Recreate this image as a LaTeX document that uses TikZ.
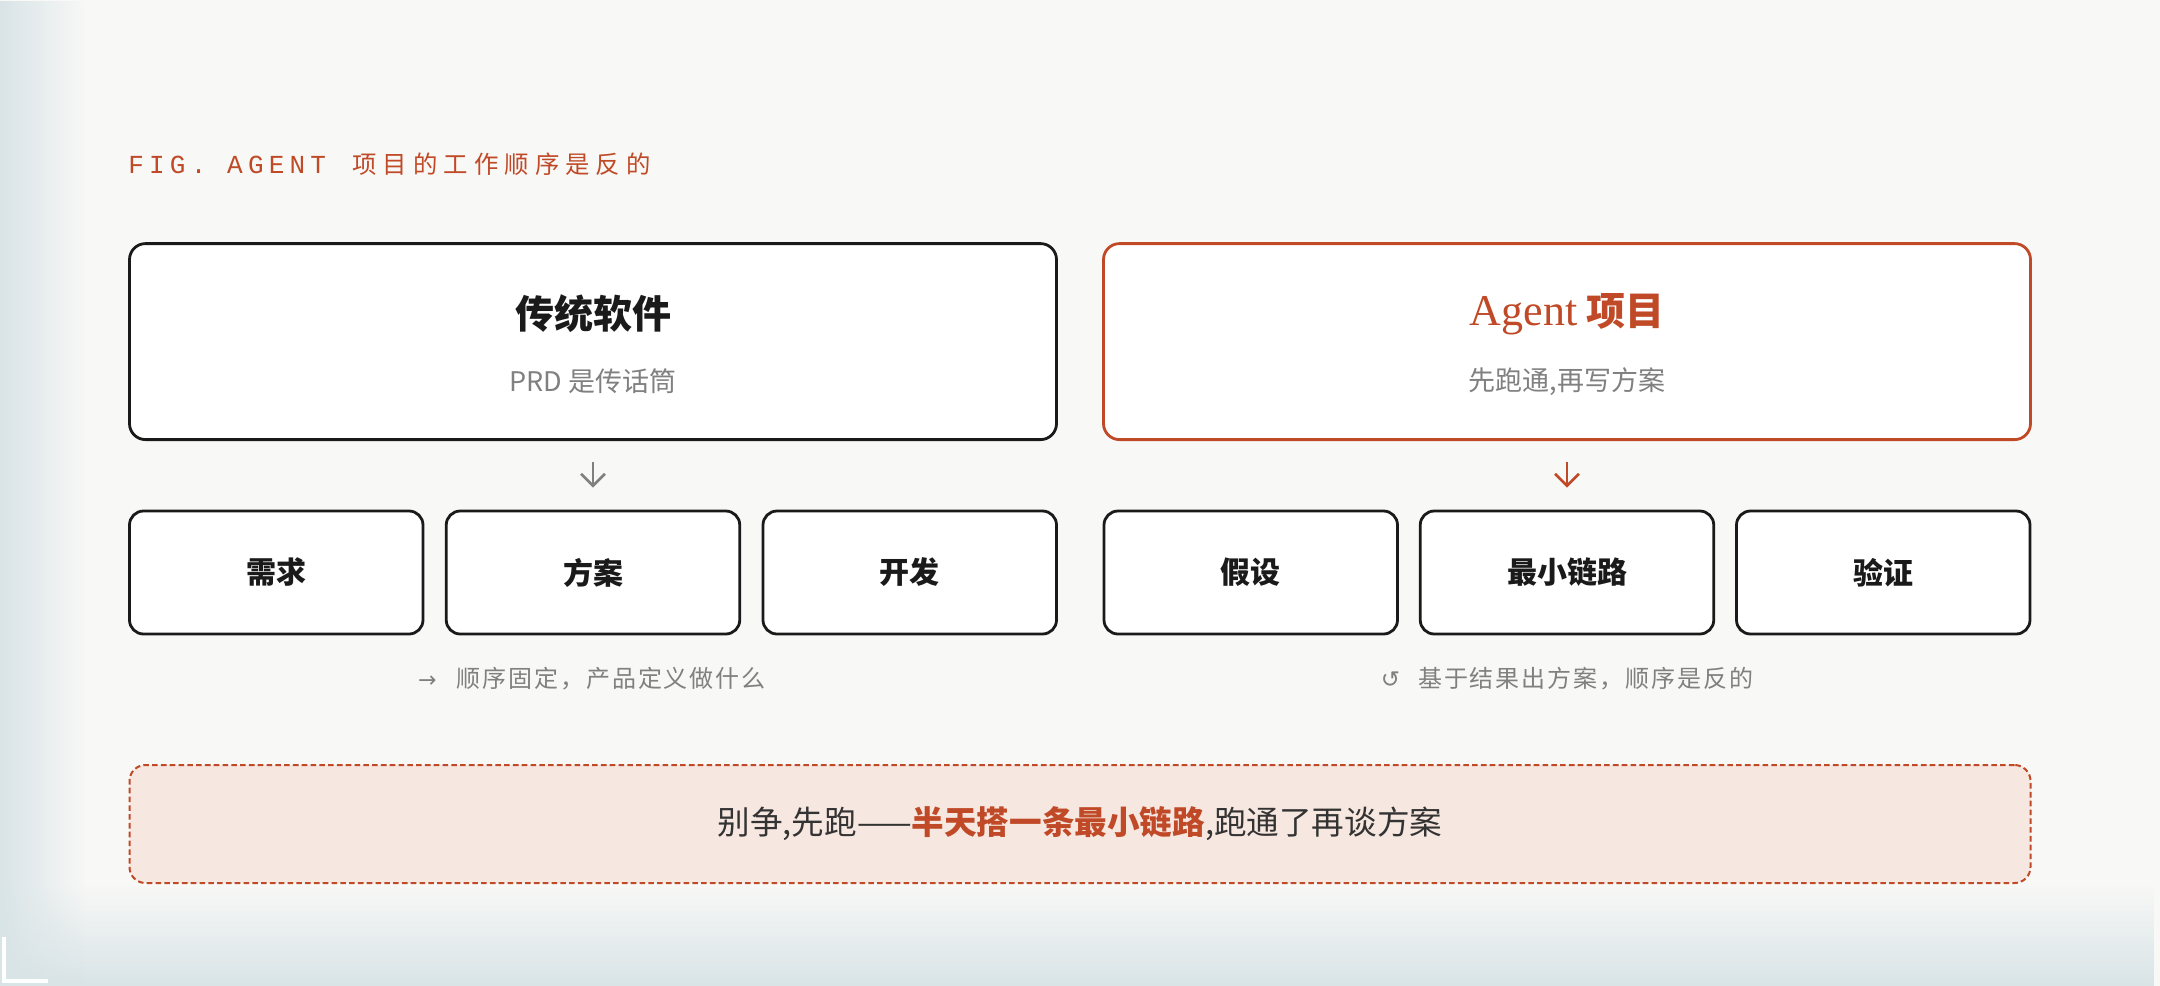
\documentclass[tikz,border=0pt]{standalone}
\usepackage{fontspec}
\setmainfont{Noto Sans CJK SC}
\newfontfamily\monof[LetterSpace=20]{Liberation Mono}
\newfontfamily\cjkls[LetterSpace=25]{Noto Sans CJK SC}
\newfontfamily\capf[LetterSpace=8]{Noto Sans CJK SC}
\newfontfamily\serf{Liberation Serif}
\newfontfamily\symf{DejaVu Sans}
\usetikzlibrary{arrows.meta,positioning,calc,fadings}
\definecolor{bg}{HTML}{F8F8F6}
\definecolor{edgec}{HTML}{D9E4E7}
\definecolor{accent}{HTML}{C04A27}
\definecolor{ink}{HTML}{1A1A1A}
\definecolor{muted}{HTML}{808080}
\definecolor{darktext}{HTML}{333333}
\definecolor{tint}{HTML}{F6E7E0}
\tikzfading[name=fadeToRight, left color=transparent!0, right color=transparent!100]
\tikzfading[name=fadeToTop, bottom color=transparent!0, top color=transparent!100]
\tikzset{
  bigbox/.style={draw=ink, line width=1.4pt, rounded corners=8pt, fill=white,
    minimum width=463.5pt, minimum height=98pt, inner sep=0pt},
  bigboxacc/.style={bigbox, draw=accent},
  smallbox/.style={draw=ink, line width=1.4pt, rounded corners=7pt, fill=white,
    minimum width=146.75pt, minimum height=61.5pt, inner sep=0pt,
    font=\bfseries\fontsize{15}{18}\selectfont, text=ink},
  boxtitle/.style={font=\bfseries\fontsize{19.5}{23}\selectfont, text=ink, inner sep=0pt},
  boxsub/.style={font=\fontsize{13.5}{16}\selectfont, text=muted, inner sep=0pt},
  flowarrow/.style={line width=1.3pt, shorten <=10.5pt, shorten >=11pt,
    -{Straight Barb[length=6pt,width=12pt]}},
  note/.style={font=\capf\fontsize{12}{14}\selectfont, text=muted, inner sep=0pt},
  tipbox/.style={draw=accent, fill=tint, line width=1pt, dash pattern=on 2.8pt off 1.6pt,
    rounded corners=8pt, minimum width=950.5pt, minimum height=59pt, inner sep=0pt,
    font=\fontsize{16.3}{19}\selectfont, text=darktext}
}
\begin{document}
\begin{tikzpicture}[x=0.5pt,y=-0.5pt]
\useasboundingbox (0,0) rectangle (2160,986);
\fill[bg] (0,0) rectangle (2160,986);
\fill[edgec, path fading=fadeToTop] (0,885) rectangle (2160,986);
\fill[edgec, path fading=fadeToRight] (0,0) rectangle (85,986);
\draw[white, line width=1.6pt] (4,937) -- (4,981) -- (48,981);

% heading
\node[anchor=west, inner sep=0pt, text=accent] (heading) at (128,164)
  {{\monof\fontsize{13}{16}\selectfont FIG. AGENT}\hspace{13pt}{\cjkls\fontsize{12.2}{15}\selectfont 项目的工作顺序是反的}};

% traditional software
\node[bigbox] (tradbox) at (593,341.6) {};
\node[boxtitle] (tradtitle) at (593,314) {传统软件};
\node[boxsub] (tradsub) at (593,381.5) {PRD 是传话筒};

\node[smallbox] (req) at (276.25,572.5) {需求};
\node[smallbox] (plan) at (593,572.5) {方案};
\node[smallbox] (dev) at (909.75,572.5) {开发};
\draw[flowarrow, draw=muted] (tradbox.south) -- (plan.north);
\node[note] (tradnote) at (592,679)
  {{\symf\fontsize{11}{12}\selectfont →}\hspace{10pt}顺序固定，产品定义做什么};

% agent project
\node[bigboxacc] (agentbox) at (1567,341.6) {};
\node[boxtitle, text=accent] (agenttitle) at (1567,314)
  {{\serf\mdseries\fontsize{22}{26}\selectfont Agent} 项目};
\node[boxsub] (agentsub) at (1567,381.5) {先跑通,再写方案};

\node[smallbox] (hyp) at (1250.75,572.5) {假设};
\node[smallbox] (minlink) at (1567,572.5) {最小链路};
\node[smallbox] (verify) at (1883.25,572.5) {验证};
\draw[flowarrow, draw=accent] (agentbox.south) -- (minlink.north);
\node[note] (agentnote) at (1567,679)
  {{\symf\fontsize{11.5}{13}\selectfont ↺}\hspace{9pt}基于结果出方案，顺序是反的};

% takeaway
\node[tipbox] (tip) at (1080,824)
  {别争,先跑——{\color{accent}\bfseries 半天搭一条最小链路},跑通了再谈方案};
\end{tikzpicture}
\end{document}
